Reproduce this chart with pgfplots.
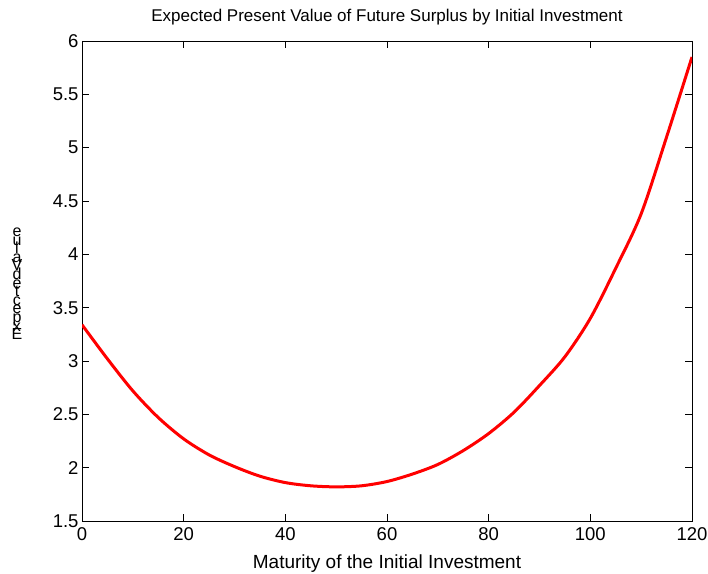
\documentclass[border=0pt]{standalone}
\usepackage{fontspec}
\setmainfont{Liberation Sans}
\usepackage{pgfplots}
\pgfplotsset{compat=1.18}
\newcommand\stl[1]{\hbox to 14bp{\hss#1\hss}}
\newcommand\stackletters{\vbox{\fontsize{16bp}{8.6bp}\selectfont\baselineskip=8.6bp\lineskiplimit=-\maxdimen\lineskip=0pt
\stl{e}\stl{u}\stl{l}\stl{a}\stl{V}\stl{d}\stl{e}\stl{t}\stl{c}\stl{e}\stl{p}\stl{x}\stl{E}}}
\begin{document}
\begin{tikzpicture}
\begin{axis}[
  name=ax,
  width=610bp, height=480bp, scale only axis,
  xmin=0, xmax=120, ymin=1.5, ymax=6,
  xtick={0,20,...,120}, ytick={1.5,2,...,6},
  tick align=inside, major tick length=7bp,
  tick style={black, line width=0.6bp},
  axis line style={black, line width=0.8bp},
  /pgf/number format/assume math mode=true,
  ticklabel style={font=\fontsize{18.5bp}{22bp}\selectfont},
  xticklabel style={yshift=-3bp},
  title={Expected Present Value of Future Surplus by Initial Investment},
  title style={font=\fontsize{17bp}{20bp}\selectfont, at={(axis description cs:0.5,1)}, anchor=base, yshift=14bp},
  xlabel={Maturity of the Initial Investment},
  xlabel style={font=\fontsize{19bp}{22bp}\selectfont, at={(axis description cs:0.5,0)}, anchor=base, yshift=-47bp},
  ylabel={\stackletters},
  ylabel style={rotate=-90, at={(axis description cs:0,0.494)}, anchor=center, xshift=-65bp},
]
\addplot[red, line width=3bp, smooth] coordinates {
(0,3.34) (5,3.02) (10,2.72) (15,2.47) (20,2.27) (25,2.12) (30,2.01)
(35,1.92) (40,1.86) (45,1.83) (50,1.82) (55,1.83) (60,1.87) (65,1.94)
(70,2.03) (75,2.16) (80,2.32) (85,2.52) (90,2.77) (95,3.04) (100,3.40)
(105,3.87) (110,4.38) (115,5.10) (120,5.85)
};
\end{axis}
\pgfresetboundingbox
\path[use as bounding box] ([xshift=-82bp,yshift=-53bp]ax.south west) rectangle ([xshift=16bp,yshift=41bp]ax.north east);
\end{tikzpicture}
\end{document}
